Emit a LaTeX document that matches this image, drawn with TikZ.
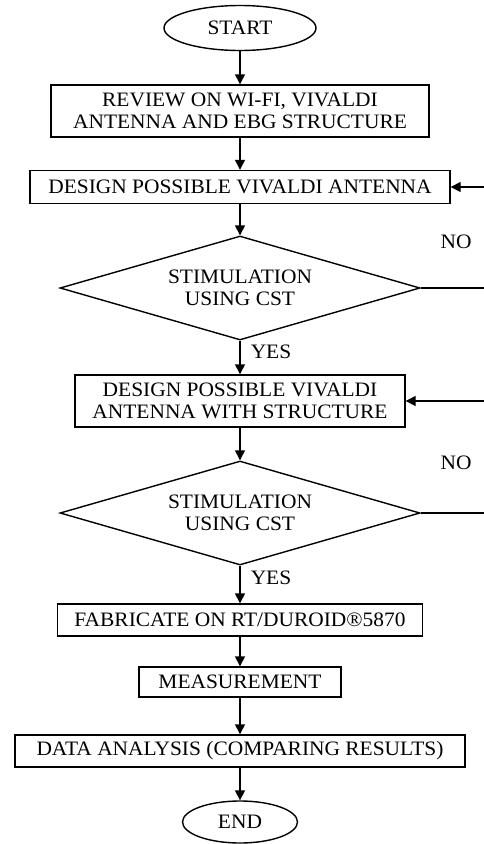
\documentclass[tikz,border=0pt]{standalone}
\usepackage{fontspec}
\setmainfont{Liberation Serif}[FakeStretch=1.045]
\usetikzlibrary{shapes.geometric,arrows.meta}
\begin{document}
\begin{tikzpicture}[x=1pt,y=-1pt,
  every node/.style={font=\fontsize{20.5}{22}\selectfont, inner sep=0pt},
  box/.style={draw, line width=1.4pt, rectangle, align=center},
  term/.style={draw, line width=1.4pt, ellipse},
  dec/.style={draw, line width=1.4pt, diamond, aspect=3.46, align=center, minimum width=360pt, minimum height=104pt},
  arr/.style={line width=1.4pt, -{Triangle[length=10pt,width=10pt]}},
  ln/.style={line width=1.4pt}]
\useasboundingbox (0,0) rectangle (484,844);
\coordinate (edge) at (484,0);
\node[term, minimum width=152pt, minimum height=45pt] (start) at (240,28) {START};
\node[box, minimum width=378pt, minimum height=52pt] (b1) at (240,111) {REVIEW ON WI-FI, VIVALDI\\ANTENNA AND EBG STRUCTURE};
\node[box, minimum width=420pt, minimum height=33pt] (b2) at (240,187) {DESIGN POSSIBLE VIVALDI ANTENNA};
\node[dec] (d1) at (240,288) {STIMULATION\\USING CST};
\node[box, minimum width=330pt, minimum height=52pt] (b3) at (240,401) {DESIGN POSSIBLE VIVALDI\\ANTENNA WITH STRUCTURE};
\node[dec] (d2) at (240,513) {STIMULATION\\USING CST};
\node[box, minimum width=365pt, minimum height=32pt] (b4) at (240,620) {FABRICATE ON RT/DUROID®5870};
\node[box, minimum width=202pt, minimum height=30pt] (b5) at (240,682) {MEASUREMENT};
\node[box, minimum width=450pt, minimum height=32pt] (b6) at (240,751) {DATA ANALYSIS (COMPARING RESULTS)};
\node[term, minimum width=115pt, minimum height=42pt] (end) at (240,822) {END};
\node (no1) at (456,242) {NO};
\node (no2) at (456,463) {NO};
\node (yes1) at (271,352) {YES};
\node (yes2) at (271,578) {YES};
\draw[arr] (start) -- (b1);
\draw[arr] (b1) -- (b2);
\draw[arr] (b2) -- (d1);
\draw[arr] (d1) -- (b3);
\draw[arr] (b3) -- (d2);
\draw[arr] (d2) -- (b4);
\draw[arr] (b4) -- (b5);
\draw[arr] (b5) -- (b6);
\draw[arr] (b6) -- (end);
\draw[ln] (d1.east) -- (d1.east -| edge);
\draw[arr] (b2.east -| edge) -- (b2.east);
\draw[ln] (d2.east) -- (d2.east -| edge);
\draw[arr] (b3.east -| edge) -- (b3.east);
\end{tikzpicture}
\end{document}
